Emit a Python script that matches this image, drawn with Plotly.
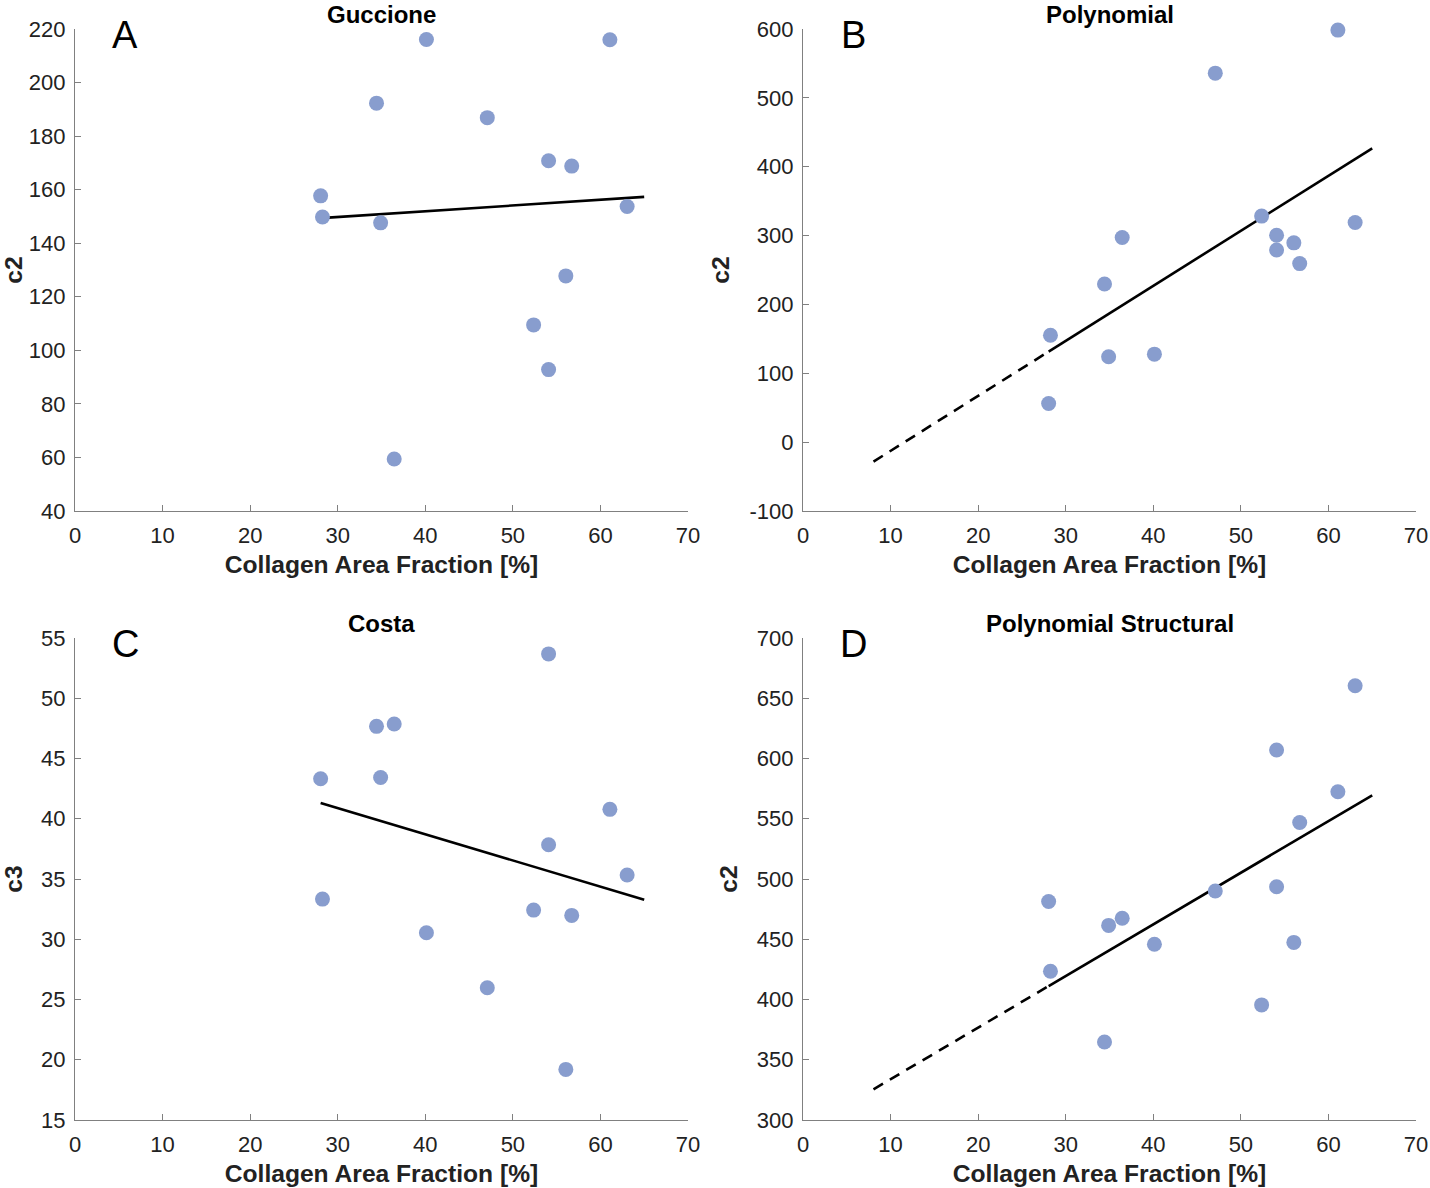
import plotly.graph_objects as go

# ---- data ----
collagen = [28.05, 28.26, 34.43, 34.90, 36.45, 40.13, 47.08, 52.37, 54.08, 54.08, 56.05, 56.72, 61.08, 63.05]

guccione_c2 = [157.7, 149.8, 192.3, 147.6, 59.4, 216.1, 186.9, 109.5, 170.8, 92.8, 127.8, 168.8, 216.0, 153.7]
poly_c2 = [56.1, 155.2, 229.7, 124.0, 297.1, 127.8, 535.9, 328.3, 300.4, 279.0, 289.4, 259.3, 598.4, 319.0]
costa_c3 = [43.32, 33.33, 47.67, 43.42, 47.86, 30.54, 25.97, 32.42, 53.68, 37.84, 19.20, 31.98, 40.78, 35.33]
polystruct_c2 = [481.3, 423.4, 364.7, 461.5, 467.4, 445.8, 490.1, 395.5, 607.0, 493.6, 447.4, 546.9, 572.4, 660.4]

panel_titles = ["Guccione", "Polynomial", "Costa", "Polynomial Structural"]
panel_letters = ["A", "B", "C", "D"]
y_titles = ["c2", "c2", "c3", "c2"]
panel_values = [guccione_c2, poly_c2, costa_c3, polystruct_c2]

# linear fit lines (slope, intercept)
fit_slope = [0.2146, 7.99, -0.2168, 4.284]
fit_intercept = [143.36, -92.6, 47.38, 291.0]
fit_x_end = 65.0
dash_x_start = [None, 8.05, None, 8.05]  # extrapolated dashed part

y_ticks = [
    [40, 60, 80, 100, 120, 140, 160, 180, 200, 220],
    [-100, 0, 100, 200, 300, 400, 500, 600],
    [15, 20, 25, 30, 35, 40, 45, 50, 55],
    [300, 350, 400, 450, 500, 550, 600, 650, 700],
]
x_ticks = [0, 10, 20, 30, 40, 50, 60, 70]

# ---- layout geometry ----
W, H = 1430, 1188
col_x = [(75, 688), (803, 1416)]
row_y = [(29, 511), (638, 1120)]

MARKER_COLOR = "rgb(136,157,206)"
AXIS_COLOR = "rgb(128,128,128)"
FONT = "Liberation Sans, Arial, Helvetica, sans-serif"

fig = go.Figure()
annotations = []

for i in range(4):
    r, c = divmod(i, 2)
    xd = [col_x[c][0] / W, col_x[c][1] / W]
    yd = [1 - row_y[r][1] / H, 1 - row_y[r][0] / H]
    xa = "x" if i == 0 else f"x{i+1}"
    ya = "y" if i == 0 else f"y{i+1}"
    xkey = "xaxis" if i == 0 else f"xaxis{i+1}"
    ykey = "yaxis" if i == 0 else f"yaxis{i+1}"

    xmin = min(collagen)
    s, b = fit_slope[i], fit_intercept[i]
    if dash_x_start[i] is not None:
        xs = [dash_x_start[i], xmin]
        fig.add_trace(go.Scatter(x=xs, y=[s * v + b for v in xs], mode="lines",
                                 line=dict(color="black", width=2.6, dash="11px,8px"),
                                 xaxis=xa, yaxis=ya, showlegend=False, hoverinfo="skip"))
    xs = [xmin, fit_x_end]
    fig.add_trace(go.Scatter(x=xs, y=[s * v + b for v in xs], mode="lines",
                             line=dict(color="black", width=2.6),
                             xaxis=xa, yaxis=ya, showlegend=False, hoverinfo="skip"))

    fig.add_trace(go.Scatter(x=collagen, y=panel_values[i], mode="markers",
                             marker=dict(color=MARKER_COLOR, size=15, line=dict(width=0)),
                             cliponaxis=False, xaxis=xa, yaxis=ya, showlegend=False))

    yt = y_ticks[i]
    fig.layout[xkey] = dict(
        domain=xd, anchor=ya, range=[x_ticks[0], x_ticks[-1]],
        tickmode="array", tickvals=x_ticks, ticktext=[str(v) for v in x_ticks],
        showline=True, linecolor=AXIS_COLOR, linewidth=1.2, mirror=False,
        ticks="inside", ticklen=6, tickcolor=AXIS_COLOR, tickwidth=1.2,
        showgrid=False, zeroline=False, automargin=False,
        tickfont=dict(family=FONT, size=22, color="#222"),
        ticklabelstandoff=4,
        title=dict(text="<b>Collagen Area Fraction [%]</b>", standoff=9,
                   font=dict(family=FONT, size=24.6, color="#222")),
    )
    fig.layout[ykey] = dict(
        domain=yd, anchor=xa, range=[yt[0], yt[-1]],
        tickmode="array", tickvals=yt, ticktext=[str(v) for v in yt],
        showline=True, linecolor=AXIS_COLOR, linewidth=1.2, mirror=False,
        ticks="inside", ticklen=6, tickcolor=AXIS_COLOR, tickwidth=1.2,
        showgrid=False, zeroline=False, automargin=False,
        tickfont=dict(family=FONT, size=22, color="#222"),
        ticklabelstandoff=4,
        title=dict(text=f"<b>{y_titles[i]}</b>", standoff=12,
                   font=dict(family=FONT, size=24.6, color="#222")),
    )

    cx = (col_x[c][0] + col_x[c][1]) / 2 / W
    annotations.append(dict(text=f"<b>{panel_titles[i]}</b>", x=cx, y=1 - (row_y[r][0] - 15) / H,
                            xref="paper", yref="paper", xanchor="center", yanchor="middle",
                            showarrow=False, font=dict(family=FONT, size=24, color="black")))
    annotations.append(dict(text=panel_letters[i], x=(col_x[c][0] + 50) / W, y=1 - (row_y[r][0] + 6) / H,
                            xref="paper", yref="paper", xanchor="center", yanchor="middle",
                            showarrow=False, font=dict(family=FONT, size=38, color="black")))

fig.update_layout(
    width=W, height=H,
    margin=dict(l=0, r=0, t=0, b=0),
    paper_bgcolor="white", plot_bgcolor="white",
    annotations=annotations,
    showlegend=False,
)

fig.write_html("out.html", config={"displayModeBar": False},
               post_script="document.body.style.margin='0px';document.body.style.padding='0px';")
